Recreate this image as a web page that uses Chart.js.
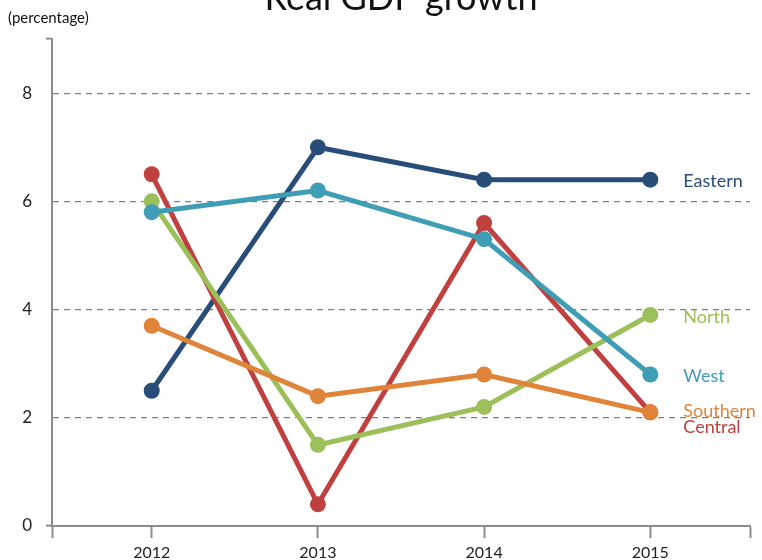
<!DOCTYPE html>
<html>
<head>
<meta charset="utf-8">
<script src="https://cdn.jsdelivr.net/npm/chart.js@4.4.0/dist/chart.umd.min.js"></script>
<style>
  body { margin: 0; background: #fff; }
  #wrap { width: 762px; height: 560px; }
</style>
</head>
<body>
<div id="wrap"><canvas id="myChart1"></canvas></div>
<script>
// data
const years = [2012, 2013, 2014, 2015];
const eastern  = [2.5, 7.0, 6.4, 6.4];
const west     = [5.8, 6.2, 5.3, 2.8];
const north    = [6.0, 1.5, 2.2, 3.9];
const central  = [6.5, 0.4, 5.6, 2.1];
const southern = [3.7, 2.4, 2.8, 2.1];
const yTicks = [0, 2, 4, 6, 8, 9];
const xTicks = [2011.4, 2012, 2013, 2014, 2015, 2015.6];

const FONT = 'Lato, "Open Sans", sans-serif';
const AXIS = '#8c8c8c';

function series(label, values, color, nudge){
	return {
		label: label,
		data: years.map((y, i) => ({x: y, y: values[i]})),
		borderColor: color,
		backgroundColor: color,
		pointBackgroundColor: color,
		pointBorderWidth: 0,
		pointRadius: 8,
		borderWidth: 5,
		tension: 0,
		nudge: nudge
	};
}

// first dataset is drawn on top
const datasets = [
	series('Southern', southern, '#e0843a', -1),
	series('West', west, '#3f9db5', 2),
	series('North', north, '#9bbf59', 2),
	series('Central', central, '#c0403f', 15),
	series('Eastern', eastern, '#284d78', 1)
];

// title, unit and the names at the end of each line
const textPlugin = {
	id: 'texts',
	afterDraw(chart){
		const ctx = chart.ctx;
		ctx.save();
		ctx.fillStyle = '#111';
		ctx.font = '36px ' + FONT;
		ctx.textAlign = 'center';
		ctx.textBaseline = 'alphabetic';
		ctx.fillText('Real GDP growth', 401, 10);
		ctx.font = '15px ' + FONT;
		ctx.textAlign = 'left';
		ctx.textBaseline = 'middle';
		ctx.fillText('(percentage)', 8, 18);
		ctx.font = '18px ' + FONT;
		chart.data.datasets.forEach((ds, i) => {
			const meta = chart.getDatasetMeta(i);
			const p = meta.data[meta.data.length - 1];
			ctx.fillStyle = ds.borderColor;
			ctx.fillText(ds.label, p.x + 33, p.y + ds.nudge);
		});
		ctx.restore();
	}
};

const config = {
	type: 'line',
	data: { datasets: datasets },
	options: {
		responsive: false,
		animation: false,
		layout: { padding: { top: 39, right: 12, left: 0, bottom: 0 }, autoPadding: false },
		plugins: { legend: { display: false }, tooltip: { enabled: false } },
		scales: {
			x: {
				type: 'linear',
				min: 2011.4,
				max: 2015.6,
				afterBuildTicks: s => { s.ticks = xTicks.map(v => ({value: v})); },
				afterFit: s => { s.height = 34; },
				ticks: {
					color: '#222',
					font: { family: FONT, size: 16 },
					padding: 5,
					maxRotation: 0,
					autoSkip: false,
					callback: v => Number.isInteger(v) ? String(v) : ''
				},
				grid: {
					drawOnChartArea: false,
					drawTicks: true,
					tickLength: 12,
					tickWidth: 2,
					tickColor: AXIS
				},
				border: { display: true, color: AXIS, width: 2 }
			},
			y: {
				min: 0,
				max: 9,
				afterBuildTicks: s => { s.ticks = yTicks.map(v => ({value: v})); },
				afterFit: s => { s.width = 52; },
				ticks: {
					color: '#222',
					font: { family: FONT, size: 17 },
					padding: 14,
					autoSkip: false,
					callback: v => v <= 8 ? String(v) : ''
				},
				grid: {
					drawTicks: true,
					tickLength: 6,
					tickWidth: 2,
					lineWidth: 1.2,
					color: c => (c.tick && c.tick.value > 0 && c.tick.value < 9) ? '#808080' : 'rgba(0,0,0,0)',
					tickColor: c => (c.tick && (c.tick.value === 0 || c.tick.value === 9)) ? AXIS : 'rgba(0,0,0,0)'
				},
				border: { display: true, color: AXIS, width: 2, dash: [6, 5] }
			}
		}
	},
	plugins: [textPlugin]
};

const c = document.getElementById('myChart1');
c.width = 762;
c.height = 560;
new Chart(c, config);
</script>
</body>
</html>
